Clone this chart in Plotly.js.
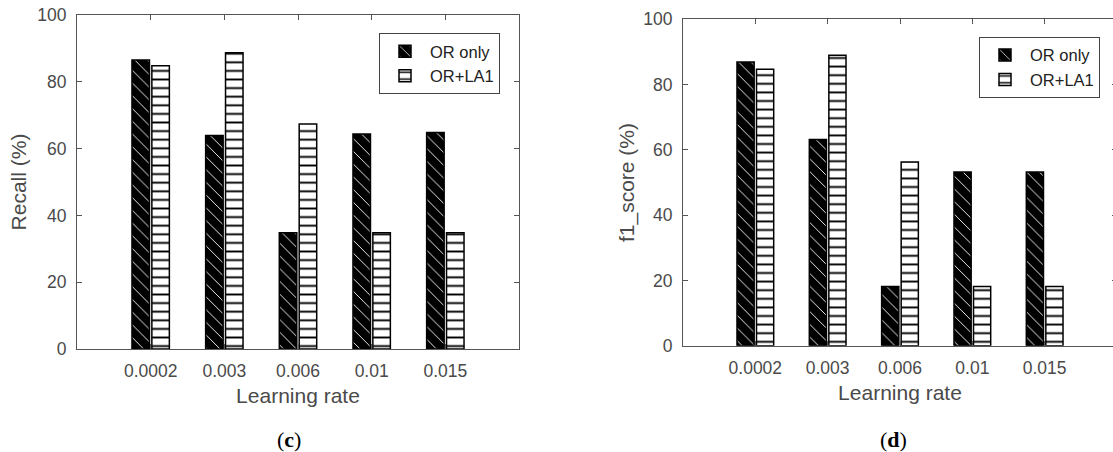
<!DOCTYPE html>
<html>
<head>
<meta charset="utf-8">
<script src="https://cdn.plot.ly/plotly-3.0.1.min.js"></script>
<style>
  html, body { margin: 0; padding: 0; overflow: hidden; background: #fff; }
  #chart { width: 1120px; height: 452px; }
</style>
</head>
<body>
<div id="chart"></div>
<script>
// ---- data ----
const categories = ['0.0002', '0.003', '0.006', '0.01', '0.015'];
const seriesNames = ['OR only', 'OR+LA1'];
const recallOROnly = [86.5, 63.9, 34.8, 64.4, 64.8];
const recallORLA1  = [84.8, 88.7, 67.4, 34.8, 34.8];
const f1OROnly     = [86.9, 63.2, 18.1, 53.2, 53.2];
const f1ORLA1      = [84.7, 89.0, 56.3, 18.1, 18.1];
const yTickVals = [0, 20, 40, 60, 80, 100];

// ---- styles ----
const W = 1120, H = 452;
const txt = '#4a4a4a';
const axCol = '#555555';
const sans = 'Liberation Sans, Arial, sans-serif';

const styleOROnly = {
  color: 'black',
  line: { color: 'black', width: 1.5 },
  pattern: { shape: '\\', fgcolor: 'white', bgcolor: 'black', size: 9, solidity: 0.1, fillmode: 'replace' }
};
const styleORLA1 = {
  color: 'white',
  line: { color: 'black', width: 1.5 },
  pattern: { shape: '-', fgcolor: 'black', bgcolor: 'white', size: 8.6, solidity: 0.22, fillmode: 'replace' }
};

function bar(name, y, marker, xa, ya, legend) {
  return { type: 'bar', name: name, x: categories, y: y, marker: marker,
           xaxis: xa, yaxis: ya, legend: legend, hoverinfo: 'x+y+name' };
}

const data = [
  bar(seriesNames[0], recallOROnly, styleOROnly, 'x', 'y', 'legend'),
  bar(seriesNames[1], recallORLA1, styleORLA1, 'x', 'y', 'legend'),
  bar(seriesNames[0], f1OROnly, styleOROnly, 'x2', 'y2', 'legend2'),
  bar(seriesNames[1], f1ORLA1, styleORLA1, 'x2', 'y2', 'legend2')
];

function xAxis(domain, anchor) {
  return {
    domain: domain, anchor: anchor, type: 'category', range: [-1, 5],
    showline: true, linecolor: axCol, linewidth: 1, mirror: 'ticks',
    ticks: 'inside', ticklen: 5, tickcolor: axCol, tickwidth: 1,
    showgrid: false, zeroline: false, fixedrange: true,
    tickfont: { family: sans, size: 17.5, color: txt },
    ticklabelstandoff: 6,
    title: { text: 'Learning rate', font: { family: sans, size: 21, color: txt }, standoff: 8 }
  };
}
function yAxis(domain, anchor, label, standoff) {
  return {
    domain: domain, anchor: anchor, range: [0, 100], tickvals: yTickVals,
    showline: true, linecolor: axCol, linewidth: 1, mirror: 'ticks',
    ticks: 'inside', ticklen: 5, tickcolor: axCol, tickwidth: 1,
    showgrid: false, zeroline: false, fixedrange: true,
    tickfont: { family: sans, size: 17.5, color: txt },
    ticklabelstandoff: 6,
    title: { text: label, font: { family: sans, size: 21, color: txt }, standoff: standoff }
  };
}
function legendBox(x, y) {
  return {
    x: x, y: y, xref: 'paper', yref: 'paper', xanchor: 'right', yanchor: 'top',
    bgcolor: 'white', bordercolor: '#444', borderwidth: 1,
    font: { family: sans, size: 16.5, color: '#222' },
    traceorder: 'normal', itemwidth: 40, tracegroupgap: 0
  };
}

const layout = {
  width: W, height: H,
  margin: { l: 0, r: 0, t: 0, b: 0, autoexpand: false },
  paper_bgcolor: 'white', plot_bgcolor: 'white',
  barmode: 'group', bargap: 0.46, bargroupgap: 0.12,
  showlegend: true,
  xaxis: xAxis([77 / W, 519 / W], 'y'),
  yaxis: yAxis([103 / H, 437 / H], 'x', 'Recall (%)', 4),
  xaxis2: xAxis([683 / W, 1117 / W], 'y2'),
  yaxis2: yAxis([106.3 / H, 432.7 / H], 'x2', 'f1_score (%)', 2),
  legend: legendBox(500 / W, (H - 33) / H),
  legend2: legendBox(1100 / W, (H - 36.7) / H),
  annotations: [
    { text: '(<b>c</b>)', x: 289 / W, y: (H - 439) / H, xref: 'paper', yref: 'paper',
      xanchor: 'center', yanchor: 'middle', showarrow: false,
      font: { family: 'Liberation Serif, Times New Roman, serif', size: 22, color: 'black' } },
    { text: '(<b>d</b>)', x: 893 / W, y: (H - 439) / H, xref: 'paper', yref: 'paper',
      xanchor: 'center', yanchor: 'middle', showarrow: false,
      font: { family: 'Liberation Serif, Times New Roman, serif', size: 22, color: 'black' } }
  ]
};

Plotly.newPlot('chart', data, layout, { displayModeBar: false });
</script>
</body>
</html>
